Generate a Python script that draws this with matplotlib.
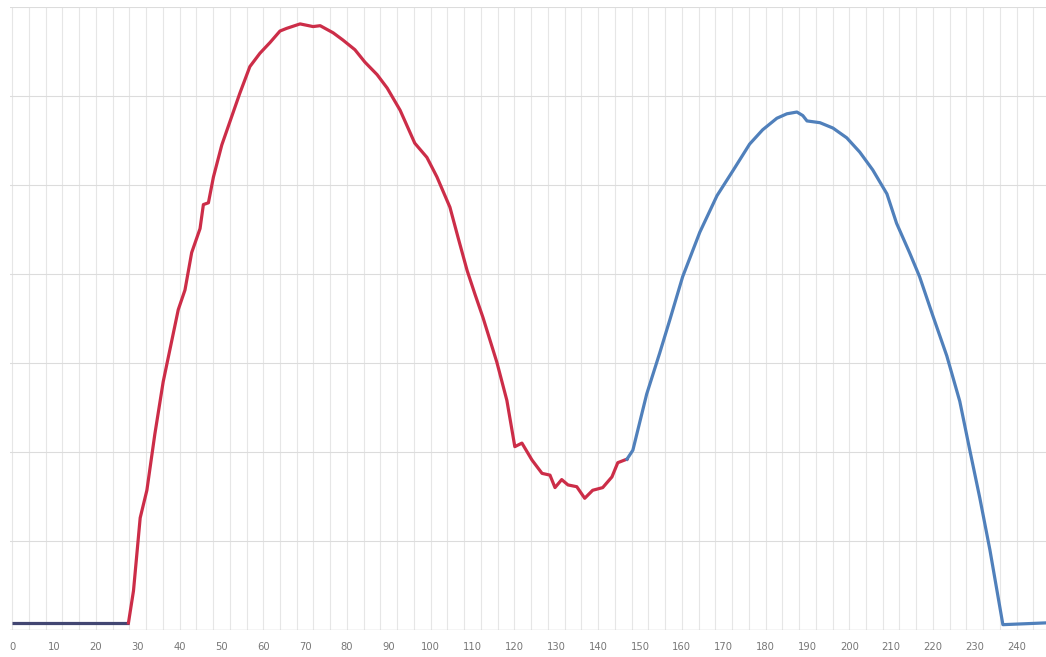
import numpy as np
import matplotlib
matplotlib.use("Agg")
import matplotlib.pyplot as plt

# values (x = sample index, y = gridline units)
base_x = [0, 28]
base_y = [0.08, 0.08]

red_x = [27.8, 29.0, 30.6, 32.2, 34.1, 36.1, 37.7, 39.7, 41.3, 42.9, 44.9, 45.7,
         46.9, 48.1, 50.1, 52.1, 54.4, 56.8, 59.2, 61.6, 64.0, 65.6, 68.8, 71.9,
         73.6, 76.7, 79.0, 81.9, 84.3, 87.2, 89.6, 92.7, 96.2, 99.1, 101.5, 104.6,
         106.6, 108.7, 110.6, 112.5, 115.8, 118.2, 120.1, 121.8, 124.2, 126.6, 128.5, 129.7,
         131.3, 132.8, 134.9, 136.8, 138.7, 141.1, 143.3, 144.7, 146.9]
red_y = [0.08, 0.44, 1.26, 1.57, 2.20, 2.79, 3.15, 3.60, 3.82, 4.24, 4.51, 4.78,
         4.80, 5.09, 5.45, 5.72, 6.03, 6.33, 6.48, 6.60, 6.73, 6.76, 6.81, 6.78,
         6.79, 6.71, 6.63, 6.52, 6.38, 6.24, 6.09, 5.84, 5.47, 5.31, 5.09, 4.75,
         4.40, 4.04, 3.77, 3.51, 3.01, 2.58, 2.06, 2.10, 1.91, 1.76, 1.74, 1.60,
         1.69, 1.63, 1.61, 1.48, 1.57, 1.60, 1.72, 1.88, 1.92]

blue_x = [146.9, 148.3, 151.6, 154.7, 157.1, 160.2, 164.3, 168.4, 172.2, 176.2,
          179.3, 182.7, 185.1, 187.5, 188.9, 189.9, 193.0, 196.1, 199.4, 202.5,
          205.6, 209.0, 211.3, 214.4, 216.8, 219.9, 223.3, 226.4, 228.8, 231.2,
          233.6, 236.7, 247.0]
blue_y = [1.92, 2.02, 2.65, 3.11, 3.48, 3.97, 4.47, 4.88, 5.16, 5.46,
          5.62, 5.75, 5.80, 5.82, 5.78, 5.72, 5.70, 5.64, 5.53, 5.37,
          5.17, 4.90, 4.57, 4.24, 3.97, 3.54, 3.08, 2.57, 2.02, 1.48,
          0.90, 0.06, 0.08]

tick_vals = list(range(0, 250, 10))

fig = plt.figure(figsize=(10.46, 6.57), dpi=100)
ax = fig.add_axes([10 / 1046, 27 / 657, 1 - 10 / 1046, 623 / 657])

ax.set_xlim(-0.5, 247)
ax.set_ylim(0, 7)

# grid
for gx in np.arange(0, 248, 4):
    ax.axvline(gx, color="#e6e6e6", lw=0.8, zorder=0)
for gy in range(1, 8):
    ax.axhline(gy, color="#dcdcdc", lw=0.8, zorder=0)
ax.axhline(0, color="#d0d0d0", lw=1.0, zorder=0)

ax.plot(base_x, base_y, color="#424672", lw=2.3, solid_capstyle="butt", zorder=3)
ax.plot(red_x, red_y, color="#cc2d48", lw=2.3, solid_joinstyle="round", zorder=3)
ax.plot(blue_x, blue_y, color="#5080bb", lw=2.3, solid_joinstyle="round", zorder=3)

for s in ax.spines.values():
    s.set_visible(False)
ax.set_yticks([])
ax.set_xticks(tick_vals)
ax.set_xticklabels([str(v) for v in tick_vals], color="#777777", fontsize=7.2)
ax.tick_params(axis="x", length=0, pad=9)

fig.savefig("out.png", dpi=100)
